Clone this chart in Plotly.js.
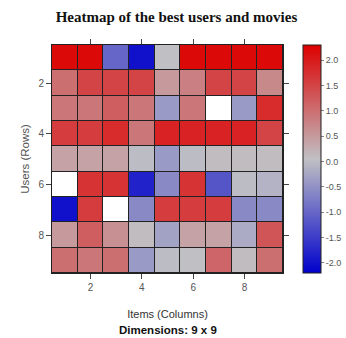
<!DOCTYPE html>
<html>
<head>
<meta charset="utf-8">
<script src="https://cdn.plot.ly/plotly-3.0.1.min.js"></script>
<style>html,body{margin:0;padding:0;background:#fff;}#chart{width:346px;height:338px;}</style>
</head>
<body>
<div id="chart"></div>
<script>
// Items (columns) 1..9 and users (rows) 1..9
var items = [1, 2, 3, 4, 5, 6, 7, 8, 9];
var users = [1, 2, 3, 4, 5, 6, 7, 8, 9];
// Normalized ratings, one array per user (null = missing)
var user1 = [2.2, 2.2, -1.0, -2.0, 0.05, 2.2, 2.2, 2.2, 2.2];
var user2 = [1.0, 1.5, 1.5, 1.5, 0.5, 0.8, 1.5, 1.5, 0.7];
var user3 = [0.9, 0.9, 1.2, 0.9, -0.4, 0.9, null, -0.4, 1.8];
var user4 = [1.6, 1.6, 1.8, 0.9, 1.9, 1.9, 1.9, 1.9, 1.5];
var user5 = [0.4, 0.4, 0.4, 0.0, -0.4, 0.0, 0.1, 0.1, 0.1];
var user6 = [null, 1.7, 1.7, -1.8, -0.6, 1.7, -1.2, 0.0, -0.1];
var user7 = [-2.0, 1.6, null, -0.6, 1.6, 1.6, 1.6, -0.6, -0.6];
var user8 = [0.5, 1.2, 0.6, 0.1, -0.3, 0.4, 0.4, -0.2, 1.3];
var user9 = [1.0, 0.9, 1.0, -0.4, 0.0, 0.05, 1.1, 0.1, 1.0];
var colorTicks = [-2.0, -1.5, -1.0, -0.5, 0.0, 0.5, 1.0, 1.5, 2.0];
var axisTicks = [2, 4, 6, 8];

var z = [user1, user2, user3, user4, user5, user6, user7, user8, user9];
var naMask = z.map(function (r) { return r.map(function (v) { return v === null ? 1 : null; }); });

var gray = '#555';
var main = {
  type: 'heatmap', x: items, y: users, z: z,
  zmin: -2.2, zmax: 2.3,
  colorscale: [[0, '#0000CC'], [0.5, '#C0C0C4'], [1, '#DD0000']],
  xgap: 1, ygap: 1, hoverongaps: false,
  colorbar: {
    x: 1.085, xanchor: 'left', xpad: 0, y: 0, yanchor: 'bottom', ypad: 0,
    len: 1, lenmode: 'fraction', thickness: 18,
    outlinewidth: 1, outlinecolor: '#222',
    tickvals: colorTicks, ticktext: colorTicks.map(function (v) { return v.toFixed(1); }),
    ticks: 'outside', ticklen: 3, tickcolor: '#888',
    tickfont: {family: 'Arial, Liberation Sans', size: 9, color: gray}
  }
};
var na = {
  type: 'heatmap', x: items, y: users, z: naMask,
  colorscale: [[0, '#FFFFFF'], [1, '#FFFFFF']], showscale: false,
  xgap: 1, ygap: 1, hoverinfo: 'skip'
};

var layout = {
  width: 346, height: 338,
  margin: {l: 52, r: 63, t: 45, b: 65, autoexpand: false},
  paper_bgcolor: '#fff', plot_bgcolor: '#222',
  title: {text: '<b>Heatmap of the best users and movies</b>', x: 0.51, xref: 'container', y: 0.95, yref: 'container', yanchor: 'middle',
          font: {family: 'Liberation Serif, Times New Roman, serif', size: 15, color: '#111'}},
  xaxis: {
    range: [0.5, 9.5], tickvals: axisTicks, ticks: 'outside', ticklen: 5, tickcolor: '#444',
    showgrid: false, zeroline: false, showline: true, linecolor: '#222', linewidth: 1, mirror: 'ticks',
    tickfont: {family: 'Arial, Liberation Sans', size: 10, color: gray},
    title: {text: 'Items (Columns)', standoff: 18, font: {family: 'Arial, Liberation Sans', size: 11, color: '#333'}}
  },
  yaxis: {
    range: [9.5, 0.5], tickvals: axisTicks, ticks: 'outside', ticklen: 5, tickcolor: '#444',
    showgrid: false, zeroline: false, showline: true, linecolor: '#222', linewidth: 1, mirror: 'ticks',
    tickfont: {family: 'Arial, Liberation Sans', size: 10, color: gray},
    title: {text: 'Users (Rows)', standoff: 6, font: {family: 'Arial, Liberation Sans', size: 11.5, color: gray}}
  },
  annotations: [{
    text: '<b>Dimensions: 9 x 9</b>', xref: 'paper', yref: 'paper', x: 0.5, y: 0, yanchor: 'middle',
    yshift: -57, showarrow: false,
    font: {family: 'Arial, Liberation Sans', size: 11.5, color: '#111'}
  }]
};

Plotly.newPlot('chart', [main, na], layout, {displayModeBar: false, staticPlot: true});
</script>
</body>
</html>
